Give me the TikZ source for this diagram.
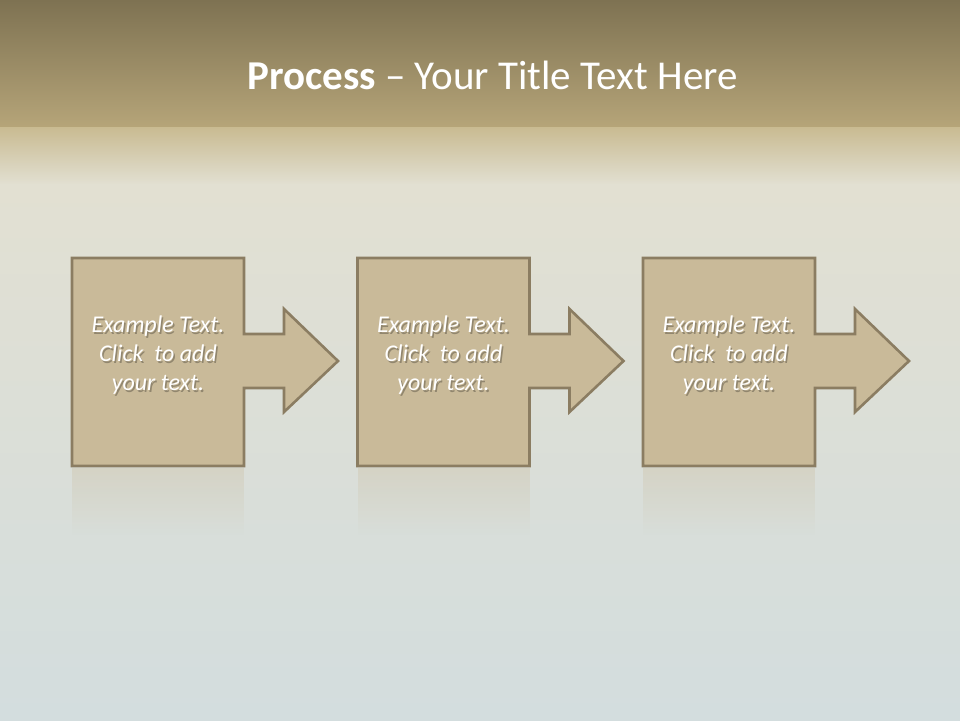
\documentclass[tikz,border=0pt]{standalone}
\usepackage{fontspec}
\setmainfont{Carlito}
\usetikzlibrary{fadings}
\definecolor{topA}{HTML}{7E7252}
\definecolor{topB}{HTML}{B6A579}
\definecolor{midA}{HTML}{C9BB92}
\definecolor{midB}{HTML}{E2E0D2}
\definecolor{lowA}{HTML}{E2E0D2}
\definecolor{lowB}{HTML}{D3DDDE}
\definecolor{boxfill}{HTML}{C9BA99}
\definecolor{boxline}{HTML}{8B7D62}
\tikzfading[name=fadedown, top color=transparent!70, bottom color=transparent!100]
\tikzset{
  stepshape/.style={fill=boxfill, draw=boxline, line width=2.6pt, line join=miter},
  reflect/.style={fill=boxfill, path fading=fadedown},
  bodytxt/.style={align=center, text=white, font=\fontsize{24}{29}\selectfont\itshape, inner sep=0pt},
  bodyshadow/.style={bodytxt, text=black, opacity=0.28},
  titletxt/.style={text=white, font=\fontsize{41}{48}\selectfont, inner sep=0pt}
}
\begin{document}
\begin{tikzpicture}[x=1pt,y=-1pt]
\useasboundingbox (0,0) rectangle (960,720);
% background
\shade[top color=topA, bottom color=topB] (0,0) rectangle (960,128);
\shade[top color=midA, bottom color=midB] (0,127.5) rectangle (960,185);
\shade[top color=lowA, bottom color=lowB] (0,184.5) rectangle (960,720);
% title
\node[titletxt] (title) at (492.5,75) {\textbf{Process} – Your Title Text Here};
% three steps
\foreach \i/\dx in {1/0, 2/285.5, 3/571} {
  \begin{scope}[xshift=\dx pt]
    \fill[reflect] (72,468) rectangle (244,535);
    \draw[stepshape] (72,258) -- (244,258) -- (244,334) -- (284,334) -- (284,309)
      -- (338,361) -- (284,412) -- (284,388) -- (244,388) -- (244,466) -- (72,466) -- cycle;
    \node[bodyshadow] (s\i) at (159.5,356.8) {Example Text.\\Click\ \ to add\\your text.};
    \node[bodytxt] (t\i) at (158,355) {Example Text.\\Click\ \ to add\\your text.};
  \end{scope}
}
\end{tikzpicture}
\end{document}
